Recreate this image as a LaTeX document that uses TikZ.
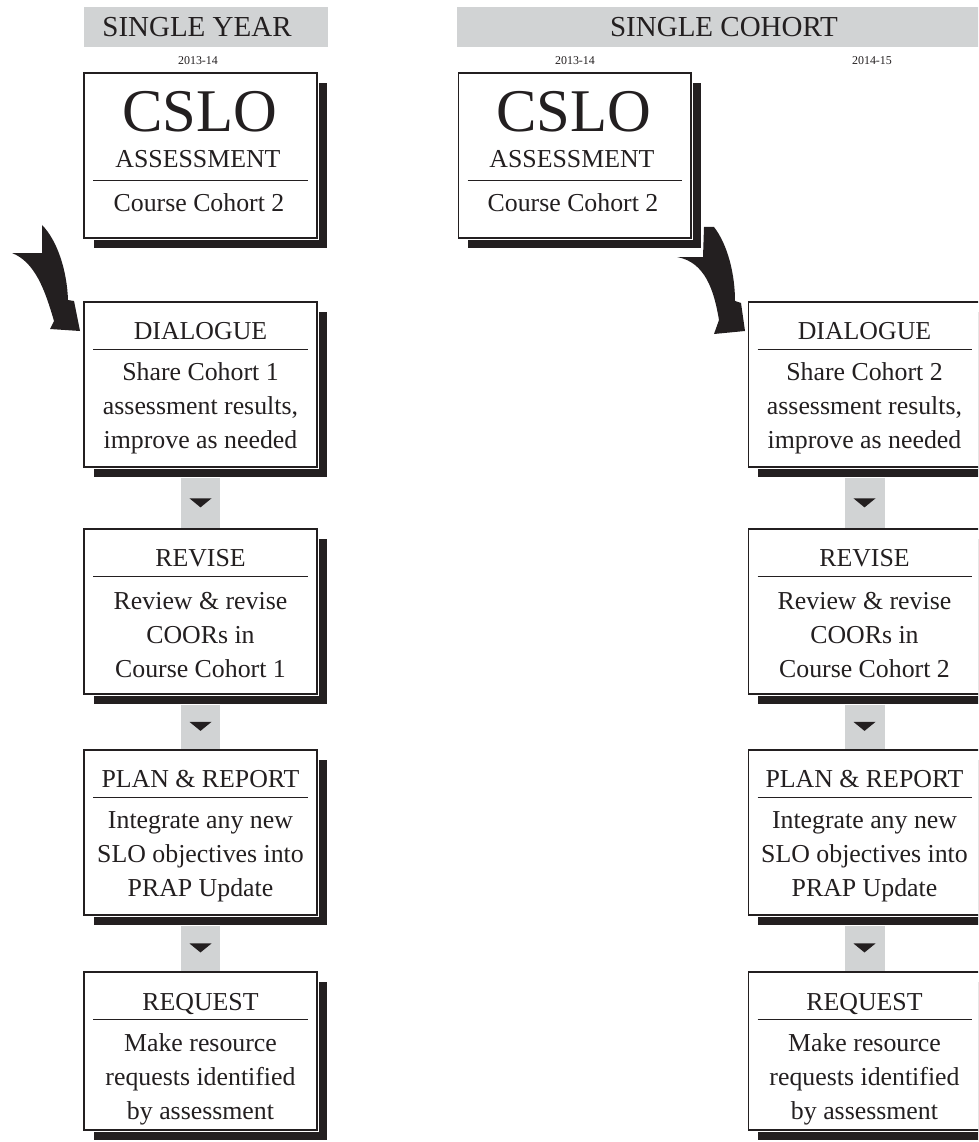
\documentclass[tikz,border=0pt]{standalone}
\usepackage{fontspec}
\setmainfont{Liberation Serif}
\usetikzlibrary{shadows}

\definecolor{ink}{RGB}{35,31,32}
\definecolor{bandgray}{RGB}{209,211,212}

\tikzset{
  panel/.style={draw=ink, line width=.6pt, fill=white, inner sep=0pt,
    minimum width=4.66cm, minimum height=3.3cm,
    drop shadow={shadow xshift=.2cm, shadow yshift=-.2cm, opacity=1, fill=ink},
    preaction={draw=white, line width=2.6pt}},
  lastpanel/.style={panel, minimum height=3.16cm},
  head/.style={fill=bandgray, minimum height=.8cm, inner sep=0pt, text=ink,
    font=\fontsize{16.5}{18}\selectfont},
  year/.style={inner sep=0pt, text=ink, font=\fontsize{6.8}{8}\selectfont},
  big/.style={inner sep=0pt, text=ink, font=\fontsize{34.5}{38}\selectfont},
  title/.style={inner sep=0pt, text=ink, anchor=base, font=\fontsize{14.7}{19.3}\selectfont},
  body/.style={inner sep=0pt, text=ink, align=center, font=\fontsize{14.7}{19.3}\selectfont},
  rule/.style={draw=ink, line width=.6pt},
  link/.style={draw=bandgray, line width=.8cm, shorten <=.2cm, shorten >=.3pt},
  swoosh/.style={fill=ink}
}

\begin{document}
\begin{tikzpicture}[x=0.02cm, y=-0.02cm]
  \useasboundingbox (0,0) rectangle (978,1142);
  \clip (0,0) rectangle (978,1142);

  % headings and years
  \node[head, minimum width=4.88cm] (lhead) at (206,27) {};
  \node[head, fill=none] (lhead-t) at (197,27) {SINGLE YEAR};
  \node[head, minimum width=10.68cm] (rhead) at (724,27) {SINGLE COHORT};
  \node[year] (lyear) at (198,61) {2013-14};
  \node[year] (ryear1) at (575,61) {2013-14};
  \node[year] (ryear2) at (872,61) {2014-15};

  % CSLO boxes
  \node[panel] (lcslo) at (200.5,155.5) {};
  \node[big, anchor=base] (lcslo-t) at (200,132) {CSLO};
  \node[title] (lcslo-s) at (198,168) {ASSESSMENT};
  \draw[rule] ([xshift=.2cm,yshift=-2.16cm]lcslo.north west) -- ([xshift=-.2cm,yshift=-2.16cm]lcslo.north east);
  \node[title] (lcslo-b) at (199,212) {Course Cohort 2};

  \node[panel] (rcslo) at (574.5,155.5) {};
  \node[big, anchor=base] (rcslo-t) at (574,132) {CSLO};
  \node[title] (rcslo-s) at (572,168) {ASSESSMENT};
  \draw[rule] ([xshift=.2cm,yshift=-2.16cm]rcslo.north west) -- ([xshift=-.2cm,yshift=-2.16cm]rcslo.north east);
  \node[title] (rcslo-b) at (573,212) {Course Cohort 2};

  % single year column
  \node[panel] (ldia) at (200.5,384.5) {};
  \node[title] (ldia-t) at (200.5,339) {DIALOGUE};
  \draw[rule] ([xshift=.2cm,yshift=-.96cm]ldia.north west) -- ([xshift=-.2cm,yshift=-.96cm]ldia.north east);
  \node[body] (ldia-b) at (200.5,408) {Share Cohort 1\\assessment results,\\improve as needed};

  \node[panel] (lrev) at (200.5,611.5) {};
  \node[title] (lrev-t) at (200.5,566) {REVISE};
  \draw[rule] ([xshift=.2cm,yshift=-.96cm]lrev.north west) -- ([xshift=-.2cm,yshift=-.96cm]lrev.north east);
  \node[body] (lrev-b) at (200.5,635) {Review \& revise\\COORs in\\Course Cohort 1};

  \node[panel] (lplan) at (200.5,832.5) {};
  \node[title] (lplan-t) at (200.5,787) {PLAN \& REPORT};
  \draw[rule] ([xshift=.2cm,yshift=-.96cm]lplan.north west) -- ([xshift=-.2cm,yshift=-.96cm]lplan.north east);
  \node[body] (lplan-b) at (200.5,857) {Integrate any new\\SLO objectives into\\PRAP Update};

  \node[lastpanel] (lreq) at (200.5,1051) {};
  \node[title] (lreq-t) at (200.5,1010) {REQUEST};
  \draw[rule] ([xshift=.2cm,yshift=-.96cm]lreq.north west) -- ([xshift=-.2cm,yshift=-.96cm]lreq.north east);
  \node[body] (lreq-b) at (200.5,1079) {Make resource\\requests identified\\by assessment};

  % single cohort column
  \node[panel] (rdia) at (864.5,384.5) {};
  \node[title] (rdia-t) at (864.5,339) {DIALOGUE};
  \draw[rule] ([xshift=.2cm,yshift=-.96cm]rdia.north west) -- ([xshift=-.2cm,yshift=-.96cm]rdia.north east);
  \node[body] (rdia-b) at (864.5,408) {Share Cohort 2\\assessment results,\\improve as needed};

  \node[panel] (rrev) at (864.5,611.5) {};
  \node[title] (rrev-t) at (864.5,566) {REVISE};
  \draw[rule] ([xshift=.2cm,yshift=-.96cm]rrev.north west) -- ([xshift=-.2cm,yshift=-.96cm]rrev.north east);
  \node[body] (rrev-b) at (864.5,635) {Review \& revise\\COORs in\\Course Cohort 2};

  \node[panel] (rplan) at (864.5,832.5) {};
  \node[title] (rplan-t) at (864.5,787) {PLAN \& REPORT};
  \draw[rule] ([xshift=.2cm,yshift=-.96cm]rplan.north west) -- ([xshift=-.2cm,yshift=-.96cm]rplan.north east);
  \node[body] (rplan-b) at (864.5,857) {Integrate any new\\SLO objectives into\\PRAP Update};

  \node[lastpanel] (rreq) at (864.5,1051) {};
  \node[title] (rreq-t) at (864.5,1010) {REQUEST};
  \draw[rule] ([xshift=.2cm,yshift=-.96cm]rreq.north west) -- ([xshift=-.2cm,yshift=-.96cm]rreq.north east);
  \node[body] (rreq-b) at (864.5,1079) {Make resource\\requests identified\\by assessment};

  % gray links with their markers
  \draw[link] (ldia.south) -- coordinate[pos=.58] (lm1) (lrev.north);
  \draw[link] (lrev.south) -- coordinate[pos=.58] (lm2) (lplan.north);
  \draw[link] (lplan.south) -- coordinate[pos=.58] (lm3) (lreq.north);
  \draw[link] (rdia.south) -- coordinate[pos=.58] (rm1) (rrev.north);
  \draw[link] (rrev.south) -- coordinate[pos=.58] (rm2) (rplan.north);
  \draw[link] (rplan.south) -- coordinate[pos=.58] (rm3) (rreq.north);
  \fill[ink] (lm1) +(-11,-4.5) -- +(11,-4.5) -- +(0,4.5) -- cycle;
  \fill[ink] (lm2) +(-11,-4.5) -- +(11,-4.5) -- +(0,4.5) -- cycle;
  \fill[ink] (lm3) +(-11,-4.5) -- +(11,-4.5) -- +(0,4.5) -- cycle;
  \fill[ink] (rm1) +(-11,-4.5) -- +(11,-4.5) -- +(0,4.5) -- cycle;
  \fill[ink] (rm2) +(-11,-4.5) -- +(11,-4.5) -- +(0,4.5) -- cycle;
  \fill[ink] (rm3) +(-11,-4.5) -- +(11,-4.5) -- +(0,4.5) -- cycle;

  % curved arrows into the dialogue boxes
  \fill[swoosh] (42,225) .. controls (57,240) and (67,270) .. (68,300) -- (74,301) -- (80,331)
    -- (50,329) -- (54,321) .. controls (45,290) and (35,262) .. (12,253) -- (42,253) -- cycle;
  \fill[swoosh] (704,227) -- (714,227) .. controls (728,245) and (735,275) .. (735,301) -- (741,303)
    -- (745,331) -- (714,334) -- (719,320) .. controls (714,290) and (705,262) .. (677,257) -- (703,257) -- cycle;
\end{tikzpicture}
\end{document}
